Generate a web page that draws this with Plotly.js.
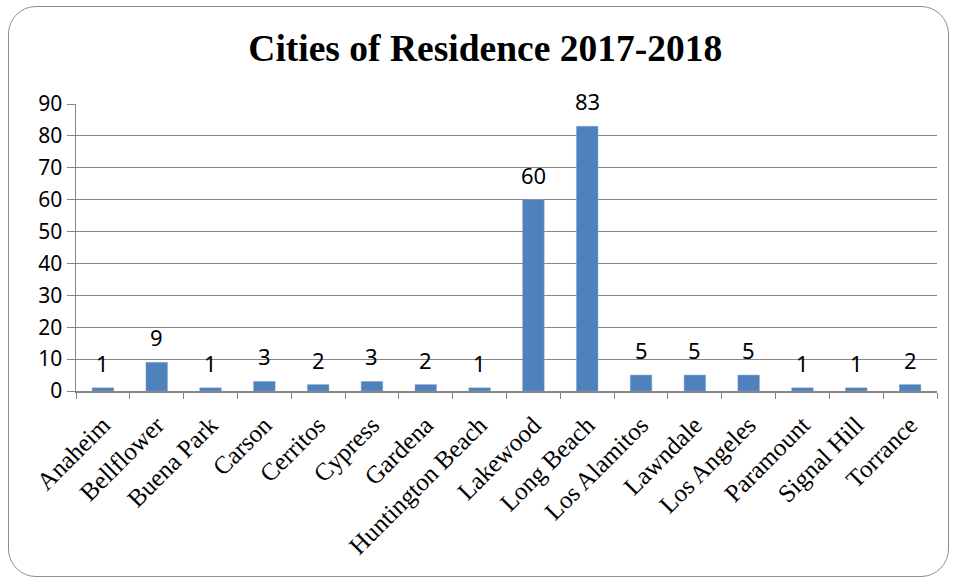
<!DOCTYPE html>
<html>
<head>
<meta charset="utf-8">
<script src="https://cdn.plot.ly/plotly-3.0.1.min.js"></script>
<style>
html,body{margin:0;padding:0;background:#fff;}
#wrap{position:relative;width:959px;height:578px;}
#chart{position:absolute;left:0;top:0;width:959px;height:578px;}
#frame{position:absolute;left:8px;top:6px;width:941px;height:571px;border:1.5px solid #8c8c8c;border-radius:28px;pointer-events:none;box-sizing:border-box;}
</style>
</head>
<body>
<div id="wrap">
<div id="chart"></div>
<div id="frame"></div>
</div>
<script>
const cities = ["Anaheim","Bellflower","Buena Park","Carson","Cerritos","Cypress","Gardena","Huntington Beach","Lakewood","Long Beach","Los Alamitos","Lawndale","Los Angeles","Paramount","Signal Hill","Torrance"];
const counts = [1,9,1,3,2,3,2,1,60,83,5,5,5,1,1,2];
const yTicks = [0,10,20,30,40,50,60,70,80,90];

const trace = {
  type: "bar",
  x: cities,
  y: counts,
  width: 0.4,
  marker: {color: "#4F81BD", line: {color: "#7FA3D0", width: 0.5}},
  hoverinfo: "x+y"
};

const annotations = cities.map((c, i) => ({
  x: c, y: counts[i], xref: "x", yref: "y",
  text: String(counts[i]), showarrow: false,
  yanchor: "middle", yshift: 25,
  font: {family: "Noto Sans, Liberation Sans, sans-serif", size: 22, color: "#000"}
}));

const layout = {
  width: 959, height: 578,
  margin: {l: 76, r: 22, t: 104, b: 187},
  paper_bgcolor: "rgba(0,0,0,0)",
  plot_bgcolor: "rgba(0,0,0,0)",
  showlegend: false,
  title: {
    text: "<b>Cities of Residence 2017-2018</b>",
    x: 0.506, xanchor: "center", y: 0.917, yanchor: "middle",
    font: {family: "Liberation Serif, serif", size: 37.5, color: "#000"}
  },
  xaxis: {
    type: "category",
    tickangle: -45,
    tickson: "boundaries",
    ticks: "outside", ticklen: 6, tickcolor: "#868686", tickwidth: 1,
    ticklabelstandoff: 8,
    showline: true, linecolor: "#868686", linewidth: 1.5,
    showgrid: false,
    tickfont: {family: "Liberation Serif, serif", size: 25, color: "#000"},
    range: [-0.5, cities.length - 0.5]
  },
  yaxis: {
    range: [0, 90],
    tickvals: yTicks,
    ticktext: yTicks.map(String),
    ticks: "outside", ticklen: 8, tickcolor: "#868686", tickwidth: 1,
    showline: true, linecolor: "#868686", linewidth: 1.5,
    showgrid: true, gridcolor: "#868686", gridwidth: 1,
    zeroline: false,
    tickfont: {family: "Noto Sans, Liberation Sans, sans-serif", size: 21, color: "#000"}
  },
  annotations: annotations
};

Plotly.newPlot("chart", [trace], layout, {displayModeBar: false, staticPlot: true});
</script>
</body>
</html>
